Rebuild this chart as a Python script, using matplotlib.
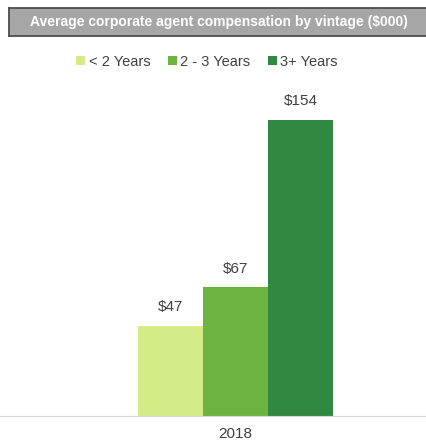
import matplotlib

matplotlib.use("Agg")
import matplotlib.pyplot as plt

plt.rcParams["font.family"] = ["Liberation Sans", "DejaVu Sans"]

years = ["2018"]
series = ["< 2 Years", "2 - 3 Years", "3+ Years"]
values = [47, 67, 154]
colors = ["#D3EC87", "#6DB33F", "#318840"]
text_color = "#404040"

W, H = 427, 442
fig = plt.figure(figsize=(W / 100, H / 100), dpi=100)

# axes: baseline at y=416 px, top at y=100 px, full width
ax = fig.add_axes([0, 1 - 416 / H, 1, (416 - 100) / H])
px_per_unit = 65.0
center_px = 235.5
ax.set_xlim(-center_px / px_per_unit, (W - center_px) / px_per_unit)
ax.set_ylim(0, 316 / (296 / 154))

offsets = [-1, 0, 1]
for off, name, val, col in zip(offsets, series, values, colors):
    ax.bar(off, val, width=1.0, color=col, label=name, linewidth=0)
    ax.text(off, val + 6, f"${val}", ha="center", va="bottom",
            fontsize=11, color=text_color)

ax.set_xticks([0])
ax.set_xticklabels(years, fontsize=11, color=text_color)
ax.tick_params(axis="x", length=0, pad=8)
ax.set_yticks([])
for s in ["top", "right", "left"]:
    ax.spines[s].set_visible(False)
ax.spines["bottom"].set_color("#D9D9D9")

leg = fig.legend(loc="center", bbox_to_anchor=(207 / W, 1 - 62 / H), ncol=3,
                 frameon=False, fontsize=10.5, handlelength=0.6, handleheight=0.6,
                 handletextpad=0.25, columnspacing=1.2)
for t in leg.get_texts():
    t.set_color(text_color)

# title box as its own small axes so the white text sits on the grey fill
tax = fig.add_axes([9 / W, 1 - 36 / H, 1.0, 28 / H])
tax.set_facecolor("#A6A6A6")
tax.set_xticks([])
tax.set_yticks([])
for s in tax.spines.values():
    s.set_color("#4D4D4D")
    s.set_linewidth(1.3)
tax.text((219 - 9) / W, 0.5,
         "Average corporate agent compensation by vintage ($000)",
         transform=tax.transAxes, ha="center", va="center", fontsize=10,
         fontweight="bold", color="white")

fig.savefig("out.png", dpi=100)
